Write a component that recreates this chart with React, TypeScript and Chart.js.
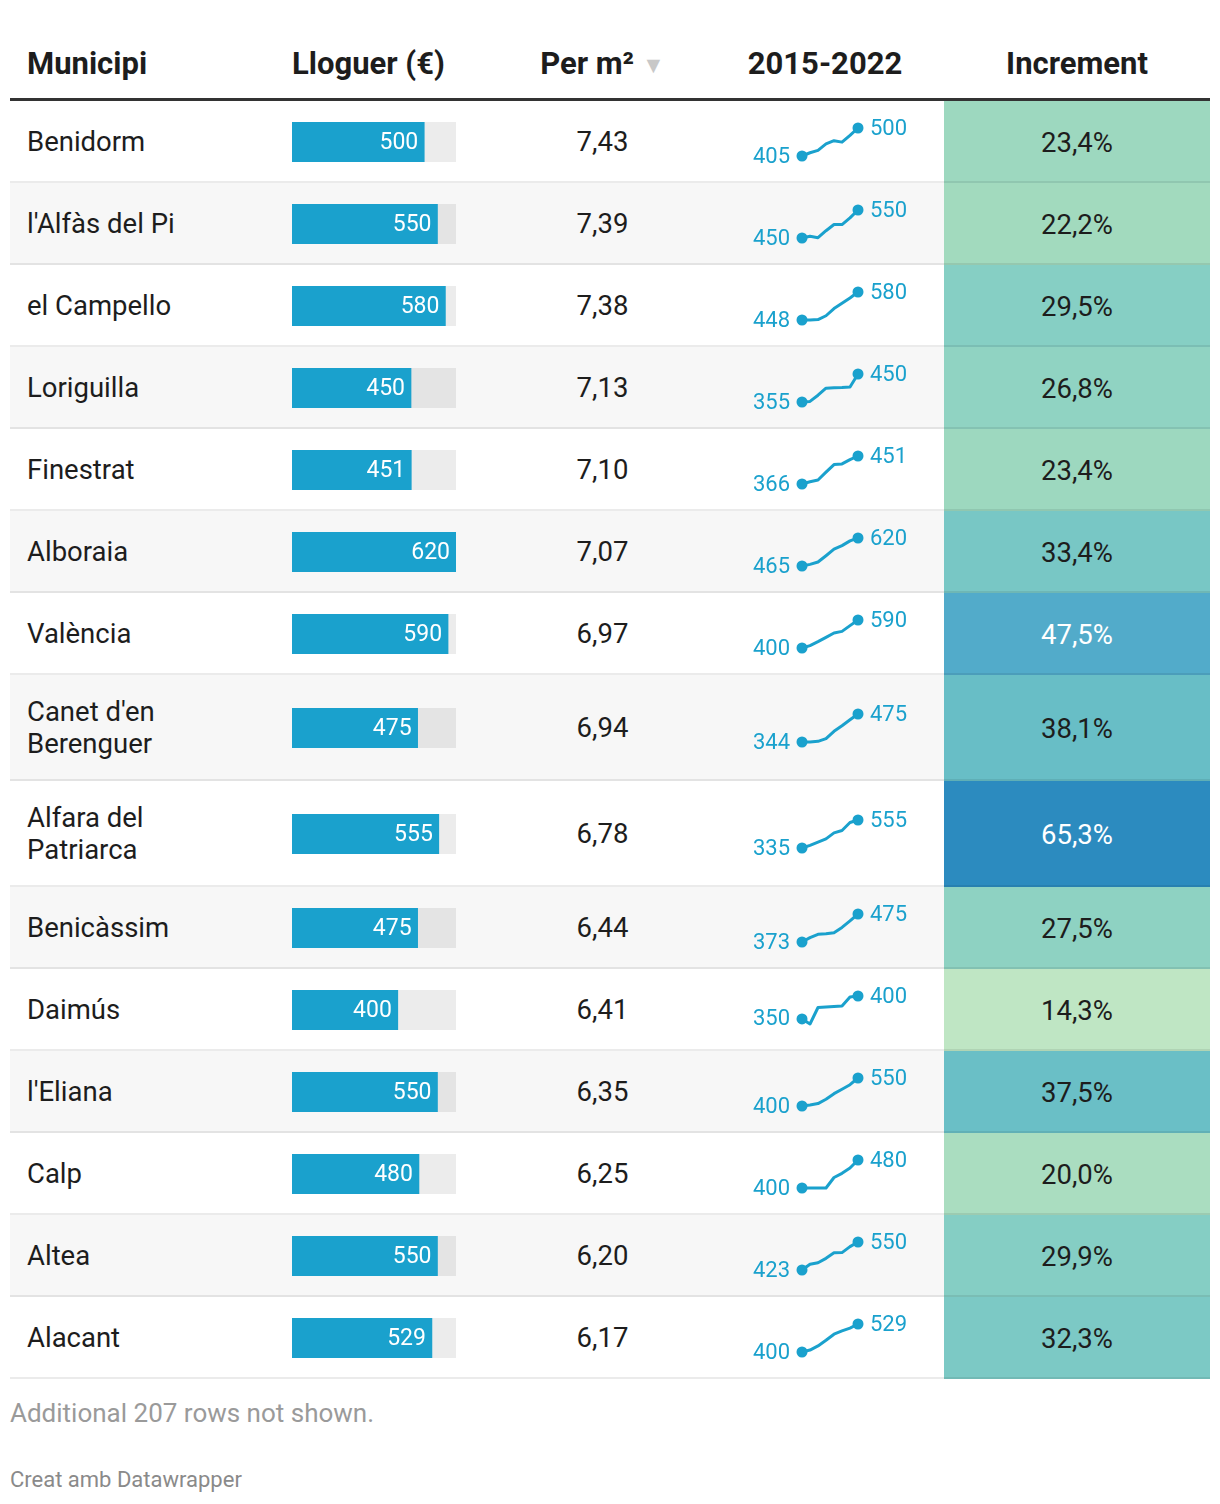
import React, { useEffect, useRef } from "react";
import { Chart, registerables } from "chart.js";

Chart.register(...registerables);
Chart.defaults.font.family = "Roboto";

// ---------- DATA ----------
const municipis = [
  "Benidorm",
  "l'Alfàs del Pi",
  "el Campello",
  "Loriguilla",
  "Finestrat",
  "Alboraia",
  "València",
  "Canet d'en Berenguer",
  "Alfara del Patriarca",
  "Benicàssim",
  "Daimús",
  "l'Eliana",
  "Calp",
  "Altea",
  "Alacant",
];
const lloguer = [500, 550, 580, 450, 451, 620, 590, 475, 555, 475, 400, 550, 480, 550, 529];
const perM2 = [7.43, 7.39, 7.38, 7.13, 7.1, 7.07, 6.97, 6.94, 6.78, 6.44, 6.41, 6.35, 6.25, 6.2, 6.17];
const increment = [23.4, 22.2, 29.5, 26.8, 23.4, 33.4, 47.5, 38.1, 65.3, 27.5, 14.3, 37.5, 20.0, 29.9, 32.3];
const years = ["2015", "2016", "2017", "2018", "2019", "2020", "2021", "2022"];

const benidorm = [405, 416, 424, 446, 457, 452, 475, 500];
const alfasDelPi = [450, 456, 451, 476, 498, 498, 522, 550];
const campello = [448, 448, 450, 468, 502, 527, 552, 580];
const loriguilla = [355, 357, 378, 402, 403, 404, 406, 450];
const finestrat = [366, 373, 378, 402, 425, 427, 440, 451];
const alboraia = [465, 474, 487, 522, 558, 578, 604, 620];
const valencia = [400, 416, 443, 472, 502, 513, 552, 590];
const canet = [344, 344, 347, 360, 394, 420, 448, 475];
const alfara = [335, 356, 381, 407, 454, 472, 535, 555];
const benicassim = [373, 389, 401, 403, 407, 426, 450, 475];
const daimus = [350, 339, 375, 376, 377, 378, 398, 400];
const eliana = [400, 405, 413, 436, 466, 490, 514, 550];
const calp = [400, 400, 400, 400, 430, 442, 457, 480];
const altea = [423, 449, 456, 476, 501, 502, 529, 550];
const alacant = [400, 409, 428, 454, 482, 497, 510, 529];

const series = [
  benidorm, alfasDelPi, campello, loriguilla, finestrat, alboraia, valencia, canet,
  alfara, benicassim, daimus, eliana, calp, altea, alacant,
];

const headers = ["Municipi", "Lloguer (€)", "Per m²", "2015-2022", "Increment"];
const footNote = "Additional 207 rows not shown.";
const credit = "Creat amb Datawrapper";

// ---------- STYLE ----------
const BLUE = "#1aa1cd";
const TEXT = "#1d1d1d";
const colWidths = [270, 200, 245, 219, 266];
const maxLloguer = Math.max(...lloguer);

const colorStops: [number, string][] = [
  [14.3, "#bfe6c4"],
  [22.2, "#a2dabe"],
  [29.5, "#86cfc4"],
  [38.1, "#68bec6"],
  [47.5, "#52abca"],
  [65.3, "#2c8bbf"],
];
function hexToRgb(h: string) {
  return [parseInt(h.slice(1, 3), 16), parseInt(h.slice(3, 5), 16), parseInt(h.slice(5, 7), 16)];
}
function incColor(v: number) {
  if (v <= colorStops[0][0]) return colorStops[0][1];
  for (let i = 1; i < colorStops.length; i++) {
    if (v <= colorStops[i][0]) {
      const [a, ca] = colorStops[i - 1];
      const [b, cb] = colorStops[i];
      const t = (v - a) / (b - a);
      const A = hexToRgb(ca), B = hexToRgb(cb);
      const c = A.map((x, k) => Math.round(x + (B[k] - x) * t));
      return `rgb(${c[0]},${c[1]},${c[2]})`;
    }
  }
  return colorStops[colorStops.length - 1][1];
}
const fmt = (v: number, d: number) => v.toFixed(d).replace(".", ",");

const barLabelPlugin = {
  id: "barLabel",
  afterDatasetsDraw(chart: any) {
    const meta = chart.getDatasetMeta(0);
    const el = meta.data[0];
    if (!el) return;
    const ctx = chart.ctx;
    ctx.save();
    ctx.fillStyle = "#ffffff";
    ctx.font = "23px Roboto";
    ctx.textAlign = "right";
    ctx.textBaseline = "middle";
    ctx.fillText(String(chart.data.datasets[0].data[0]), el.x - 6, el.y + 1);
    ctx.restore();
  },
};

const sparkLabelPlugin = {
  id: "sparkLabel",
  afterDatasetsDraw(chart: any) {
    const meta = chart.getDatasetMeta(0);
    const pts = meta.data;
    const data = chart.data.datasets[0].data;
    const ctx = chart.ctx;
    ctx.save();
    ctx.fillStyle = BLUE;
    ctx.font = "22px Roboto";
    ctx.textBaseline = "middle";
    const first = pts[0];
    const last = pts[pts.length - 1];
    ctx.textAlign = "right";
    ctx.fillText(String(data[0]), first.x - 12, first.y + 1);
    ctx.textAlign = "left";
    ctx.fillText(String(data[data.length - 1]), last.x + 12, last.y + 1);
    ctx.restore();
  },
};

function Row({ i }: { i: number }) {
  const barRef = useRef<HTMLCanvasElement>(null);
  const lineRef = useRef<HTMLCanvasElement>(null);

  useEffect(() => {
    const s = series[i];
    const bar = new Chart(barRef.current!, {
      type: "bar",
      data: {
        labels: [""],
        datasets: [
          { data: [lloguer[i]], backgroundColor: BLUE, order: 0, grouped: false, barPercentage: 1, categoryPercentage: 1 } as any,
          { data: [maxLloguer], backgroundColor: "rgba(0,0,0,0.075)", order: 1, grouped: false, barPercentage: 1, categoryPercentage: 1 } as any,
        ],
      },
      options: {
        indexAxis: "y",
        animation: false,
        responsive: false,
        events: [],
        layout: { padding: 0 },
        plugins: { legend: { display: false }, tooltip: { enabled: false } },
        scales: {
          x: { display: false, min: 0, max: maxLloguer },
          y: { display: false },
        },
      },
      plugins: [barLabelPlugin],
    });
    const line = new Chart(lineRef.current!, {
      type: "line",
      data: {
        labels: years,
        datasets: [
          {
            data: s,
            borderColor: BLUE,
            borderWidth: 3,
            backgroundColor: BLUE,
            pointBackgroundColor: BLUE,
            pointBorderWidth: 0,
            pointRadius: s.map((_, k) => (k === 0 || k === s.length - 1 ? 5.5 : 0)),
            tension: 0,
            fill: false,
            clip: false,
            borderCapStyle: "round",
            borderJoinStyle: "round",
          } as any,
        ],
      },
      options: {
        animation: false,
        responsive: false,
        events: [],
        layout: { padding: { left: 57, right: 57, top: 26, bottom: 26 } },
        plugins: { legend: { display: false }, tooltip: { enabled: false } },
        scales: {
          x: { display: false },
          y: { display: false, min: Math.min(...s), max: Math.max(...s) },
        },
      },
      plugins: [sparkLabelPlugin],
    });
    return () => {
      bar.destroy();
      line.destroy();
    };
  }, [i]);

  const inc = increment[i];
  return (
    <div
      style={{
        position: "relative",
        display: "flex",
        alignItems: "center",
        paddingTop: 21,
        paddingBottom: 21,
        background: i % 2 === 1 ? "#f7f7f7" : "#ffffff",
      }}
    >
      <div style={{ width: colWidths[0], paddingLeft: 17, boxSizing: "border-box" }}>
        <div style={{ maxWidth: 205, lineHeight: "32px", fontSize: 27.5, color: TEXT }}>{municipis[i]}</div>
      </div>
      <div style={{ width: colWidths[1], paddingLeft: 12, boxSizing: "border-box", height: 40 }}>
        <canvas ref={barRef} width={164} height={40} style={{ width: 164, height: 40, display: "block" }} />
      </div>
      <div style={{ width: colWidths[2], textAlign: "center", fontSize: 27.5, lineHeight: "32px", color: TEXT }}>
        {fmt(perM2[i], 2)}
      </div>
      <div style={{ width: colWidths[3], position: "relative", height: 40 }}>
        <canvas
          ref={lineRef}
          width={170}
          height={80}
          style={{ position: "absolute", left: 20, top: -20, width: 170, height: 80, display: "block" }}
        />
      </div>
      <div style={{ width: colWidths[4] }} />
      <div
        style={{
          position: "absolute",
          right: 0,
          top: 0,
          bottom: 0,
          width: colWidths[4],
          background: incColor(inc),
          display: "flex",
          alignItems: "center",
          justifyContent: "center",
          fontSize: 27.5,
          color: inc > 45 ? "#ffffff" : TEXT,
        }}
      >
        {fmt(inc, 1) + "%"}
      </div>
      <div
        style={{
          position: "absolute",
          left: 0,
          right: 0,
          bottom: 0,
          height: 2,
          background: "rgba(0,0,0,0.08)",
          zIndex: 2,
        }}
      />
    </div>
  );
}

export default function App() {
  const hStyle: React.CSSProperties = { fontWeight: 700, fontSize: 31, lineHeight: "36px", height: 36, color: TEXT, boxSizing: "border-box" };
  return (
    <div style={{ margin: "0 2px", fontFamily: "Roboto, sans-serif" }}>
      <div
        style={{
          height: 93,
          display: "flex",
          alignItems: "flex-end",
          paddingBottom: 16,
          borderBottom: "3px solid #333333",
          boxSizing: "border-box",
        }}
      >
        <div style={{ ...hStyle, width: colWidths[0], paddingLeft: 17 }}>{headers[0]}</div>
        <div style={{ ...hStyle, width: colWidths[1], paddingLeft: 12 }}>{headers[1]}</div>
        <div style={{ ...hStyle, width: colWidths[2], textAlign: "center" }}>
          {headers[2]}
          <span style={{ color: "#c8c8c8", fontSize: 23, lineHeight: "0px", marginLeft: 8, position: "relative", top: -1 }}>▼</span>
        </div>
        <div style={{ ...hStyle, width: colWidths[3], textAlign: "center", paddingRight: 19 }}>{headers[3]}</div>
        <div style={{ ...hStyle, width: colWidths[4], textAlign: "center" }}>{headers[4]}</div>
      </div>
      {municipis.map((_, i) => (
        <Row key={i} i={i} />
      ))}
      <div style={{ marginTop: 19, fontSize: 26, lineHeight: "30px", color: "#9a9a9a" }}>{footNote}</div>
      <div style={{ marginTop: 40, fontSize: 22, lineHeight: "24px", color: "#8a8a8a" }}>{credit}</div>
    </div>
  );
}
